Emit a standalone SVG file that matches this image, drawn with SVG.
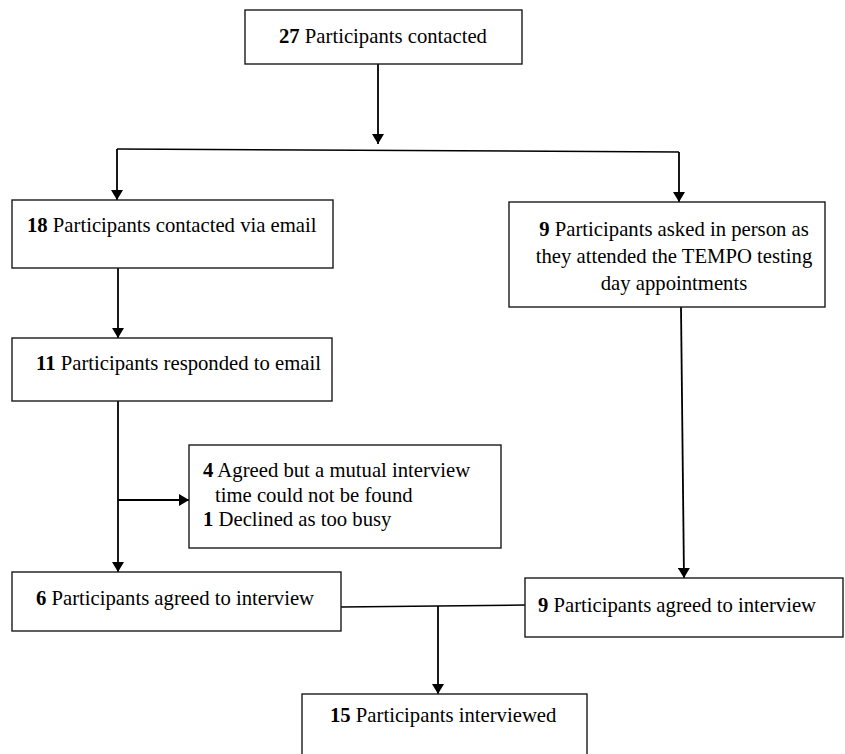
<svg xmlns="http://www.w3.org/2000/svg" width="845" height="754" viewBox="0 0 845 754">
<defs>
<marker id="ah" viewBox="0 0 10 12" refX="10" refY="6" markerWidth="10" markerHeight="12" markerUnits="userSpaceOnUse" orient="auto">
<path d="M0,0 L10,6 L0,12 Z" fill="#000"/>
</marker>
<style>
.box{fill:#fff;stroke:#1a1a1a;stroke-width:1.4}
.t{font-family:"Liberation Serif","Times New Roman",serif;font-size:20.7px;fill:#000}
.c{text-anchor:middle}
.b{font-weight:bold}
.ln{stroke:#000;stroke-width:1.5;fill:none}
.ar{stroke:#000;stroke-width:1.8;fill:none;marker-end:url(#ah)}
</style>
</defs>
<rect width="845" height="754" fill="#fff"/>
<g id="connectors">
<line class="ar" x1="378" y1="64" x2="378" y2="144"/>
<line class="ln" x1="117" y1="149" x2="679" y2="152"/>
<line class="ar" x1="117" y1="149" x2="117" y2="200"/>
<line class="ar" x1="679" y1="152" x2="679" y2="202"/>
<line class="ar" x1="118" y1="268" x2="118" y2="338"/>
<line class="ar" x1="118" y1="401" x2="118" y2="572"/>
<line class="ar" x1="118" y1="500" x2="189" y2="500"/>
<line class="ar" x1="681" y1="307" x2="684" y2="578"/>
<line class="ln" x1="341" y1="607" x2="525" y2="605"/>
<line class="ar" x1="438" y1="606" x2="438" y2="694"/>
</g>
<g id="n27">
<rect class="box" x="245" y="10" width="277" height="54"/>
<text class="t" x="279" y="43"><tspan class="b">27</tspan> Participants contacted</text>
</g>
<g id="n18">
<rect class="box" x="12" y="200" width="321" height="68"/>
<text class="t" x="27" y="232"><tspan class="b">18</tspan> Participants contacted via email</text>
</g>
<g id="n9person">
<rect class="box" x="509" y="202" width="316" height="105"/>
<text class="t c" x="674" y="236"><tspan class="b">9</tspan> Participants asked in person as</text>
<text class="t c" x="674" y="263">they attended the TEMPO testing</text>
<text class="t c" x="674" y="290">day appointments</text>
</g>
<g id="n11">
<rect class="box" x="12" y="338" width="320" height="63"/>
<text class="t" x="36" y="370"><tspan class="b">11</tspan> Participants responded to email</text>
</g>
<g id="nexcl">
<rect class="box" x="189" y="445" width="312" height="103"/>
<text class="t" x="203" y="477"><tspan class="b">4</tspan> Agreed but a mutual interview</text>
<text class="t" x="215" y="502">time could not be found</text>
<text class="t" x="203" y="526"><tspan class="b">1</tspan> Declined as too busy</text>
</g>
<g id="n6">
<rect class="box" x="12" y="572" width="329" height="59"/>
<text class="t" x="36" y="605"><tspan class="b">6</tspan> Participants agreed to interview</text>
</g>
<g id="n9agreed">
<rect class="box" x="525" y="578" width="318" height="59"/>
<text class="t" x="538" y="612"><tspan class="b">9</tspan> Participants agreed to interview</text>
</g>
<g id="n15">
<rect class="box" x="302" y="694" width="285" height="70"/>
<text class="t" x="330" y="722"><tspan class="b">15</tspan> Participants interviewed</text>
</g>
</svg>
